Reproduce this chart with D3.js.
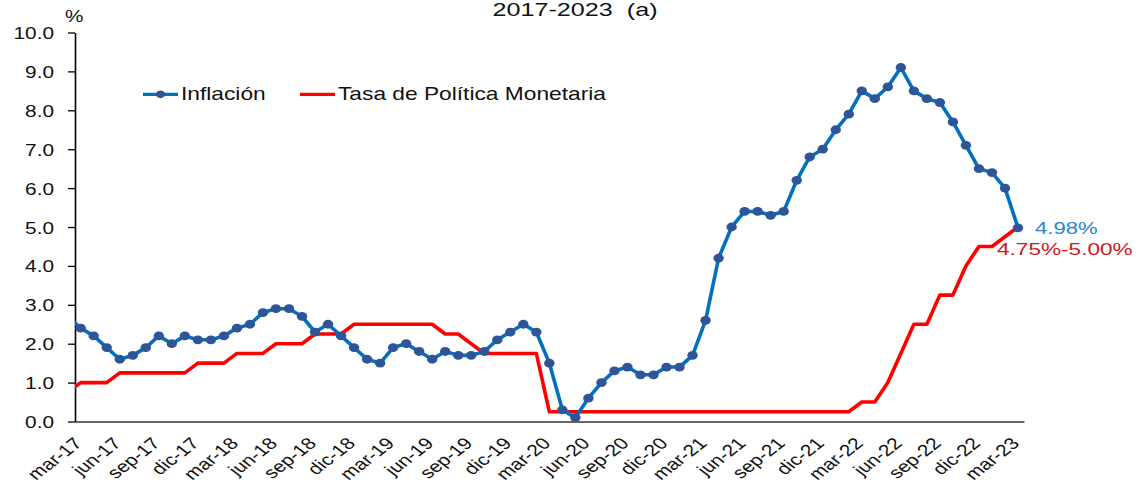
<!DOCTYPE html>
<html>
<head>
<meta charset="utf-8">
<script src="https://cdn.jsdelivr.net/npm/d3@7"></script>
<style>
  body { margin: 0; background: #fff; }
  svg { display: block; font-family: "Liberation Sans", Arial, sans-serif; }
</style>
</head>
<body>
<svg width="1138" height="486"></svg>
<script>
// meses: feb-17 .. mar-23 (feb-17 queda cortado por el eje)
const mesesAbr = ["ene","feb","mar","abr","may","jun","jul","ago","sep","oct","nov","dic"];
const inicio = new Date(2017, 1, 1);

const inflacion = [
  2.7, 2.4, 2.2, 1.9, 1.6, 1.7, 1.9, 2.2, 2.0, 2.2, 2.1,
  2.1, 2.2, 2.4, 2.5, 2.8, 2.9, 2.9, 2.7, 2.3, 2.5, 2.2, 1.9,
  1.6, 1.5, 1.9, 2.0, 1.8, 1.6, 1.8, 1.7, 1.7, 1.8, 2.1, 2.3,
  2.5, 2.3, 1.5, 0.3, 0.1, 0.6, 1.0, 1.3, 1.4, 1.2, 1.2, 1.4,
  1.4, 1.7, 2.6, 4.2, 5.0, 5.4, 5.4, 5.3, 5.4, 6.2, 6.8, 7.0,
  7.5, 7.9, 8.5, 8.3, 8.6, 9.1, 8.5, 8.3, 8.2, 7.7, 7.1, 6.5,
  6.4, 6.0, 4.98
];

const tpm = [
  0.75, 1.0, 1.0, 1.0, 1.25, 1.25, 1.25, 1.25, 1.25, 1.25, 1.5,
  1.5, 1.5, 1.75, 1.75, 1.75, 2.0, 2.0, 2.0, 2.25, 2.25, 2.25, 2.5,
  2.5, 2.5, 2.5, 2.5, 2.5, 2.5, 2.25, 2.25, 2.0, 1.75, 1.75, 1.75,
  1.75, 1.75, 0.25, 0.25, 0.25, 0.25, 0.25, 0.25, 0.25, 0.25, 0.25, 0.25,
  0.25, 0.25, 0.25, 0.25, 0.25, 0.25, 0.25, 0.25, 0.25, 0.25, 0.25, 0.25,
  0.25, 0.25, 0.5, 0.5, 1.0, 1.75, 2.5, 2.5, 3.25, 3.25, 4.0, 4.5,
  4.5, 4.75, 5.0
];

const yTicks = [0, 1, 2, 3, 4, 5, 6, 7, 8, 9, 10];
const titulo = "2017-2023  (a)";
const series = ["Inflación", "Tasa de Política Monetaria"];
const etiquetasFinal = ["4.98%", "4.75%-5.00%"];

const meses = d3.range(inflacion.length).map(i => {
  const d = d3.timeMonth.offset(inicio, i);
  return mesesAbr[d.getMonth()] + "-" + String(d.getFullYear()).slice(2);
});

const azul = "#0070c0",
      azulMarca = "#2f5597",
      rojo = "#ff0000",
      sx = 1.3; // texto ensanchado como en el original

var svg = d3.select("svg");

var x = d3.scaleLinear().domain([0.562, 73.46]).range([75, 1024]);
var y = d3.scaleLinear().domain([0, 10]).range([421.5, 32.5]);

svg.append("defs").append("clipPath").attr("id", "clip")
   .append("rect").attr("x", 75).attr("y", 0).attr("width", 1063).attr("height", 486);

// titulo
svg.append("text")
   .attr("transform", "translate(575,15.5) scale(1.36,1)")
   .attr("text-anchor", "middle")
   .attr("font-size", 18.5)
   .attr("fill", "#111")
   .style("white-space", "pre")
   .text(titulo);

svg.append("text")
   .attr("transform", `translate(65,21.5) scale(${sx},1)`)
   .attr("font-size", 16)
   .attr("fill", "#111")
   .text("%");

// eje y
var yAxis = svg.append("g")
   .attr("transform", "translate(75,0)")
   .call(d3.axisLeft(y).tickValues(yTicks).tickFormat(d3.format(".1f")).tickSize(7).tickSizeOuter(0));
yAxis.select(".domain").attr("stroke", "#000").attr("stroke-width", 1.6);
yAxis.selectAll(".tick line").attr("stroke", "#000").attr("stroke-width", 1.3);
yAxis.selectAll(".tick text")
   .attr("x", null).attr("dy", null)
   .attr("transform", `translate(-21,6) scale(${sx},1)`)
   .attr("font-size", 16)
   .attr("font-family", "Liberation Sans, Arial, sans-serif")
   .attr("fill", "#111");

// eje x
var xTicks = d3.range(1, meses.length, 3);
var xAxis = svg.append("g")
   .attr("transform", `translate(0,${y(0)})`)
   .call(d3.axisBottom(x).tickValues(xTicks).tickSize(0).tickSizeOuter(0).tickFormat(i => meses[i]));
xAxis.select(".domain").attr("stroke", "#333").attr("stroke-width", 1.4);
xAxis.selectAll(".tick text")
   .attr("y", null).attr("dy", null)
   .attr("text-anchor", "end")
   .attr("transform", `translate(2,23) scale(${sx},1) rotate(-45)`)
   .attr("font-size", 16.2)
   .attr("font-family", "Liberation Sans, Arial, sans-serif")
   .attr("fill", "#111");

var plot = svg.append("g").attr("clip-path", "url(#clip)");

var linea = d3.line().x((d, i) => x(i)).y(d => y(d));

plot.append("path")
    .datum(tpm)
    .attr("fill", "none")
    .attr("stroke", rojo)
    .attr("stroke-width", 3.6)
    .attr("stroke-linejoin", "round")
    .attr("d", linea);

plot.append("path")
    .datum(inflacion)
    .attr("fill", "none")
    .attr("stroke", azul)
    .attr("stroke-width", 3.6)
    .attr("stroke-linejoin", "round")
    .attr("d", linea);

plot.selectAll("ellipse.marca")
    .data(inflacion)
    .enter().append("ellipse")
    .attr("class", "marca")
    .attr("cx", (d, i) => x(i))
    .attr("cy", d => y(d))
    .attr("rx", 5.2)
    .attr("ry", 4.4)
    .attr("fill", azulMarca);

// leyenda
var ley = svg.append("g");
ley.append("line").attr("x1", 143).attr("x2", 178).attr("y1", 94.3).attr("y2", 94.3)
   .attr("stroke", azul).attr("stroke-width", 3.2);
ley.append("ellipse").attr("cx", 160.5).attr("cy", 94.3).attr("rx", 4.6).attr("ry", 3.9).attr("fill", azulMarca);
ley.append("text").attr("transform", `translate(181,100) scale(${sx},1)`)
   .attr("font-size", 17.5).attr("fill", "#111").text(series[0]);
ley.append("line").attr("x1", 300).attr("x2", 335).attr("y1", 94.3).attr("y2", 94.3)
   .attr("stroke", rojo).attr("stroke-width", 3.2);
ley.append("text").attr("transform", `translate(338,100) scale(${sx},1)`)
   .attr("font-size", 17.5).attr("fill", "#111").text(series[1]);

// etiquetas al final
var ult = inflacion.length - 1;
svg.append("text")
   .attr("transform", `translate(${x(ult) + 17},${y(inflacion[ult]) + 6}) scale(${sx},1)`)
   .attr("font-size", 17).attr("fill", "#2a86d2").text(etiquetasFinal[0]);
svg.append("text")
   .attr("transform", `translate(${x(ult) - 21},${y(tpm[ult]) + 28}) scale(${sx},1)`)
   .attr("font-size", 17.4).attr("fill", "#d01818").text(etiquetasFinal[1]);
</script>
</body>
</html>
